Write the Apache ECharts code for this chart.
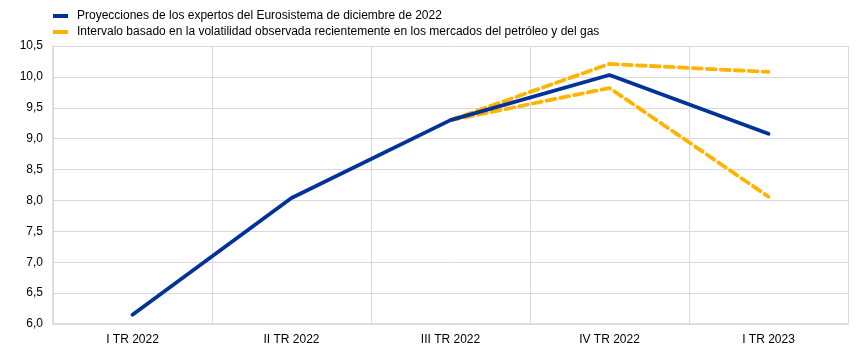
<!DOCTYPE html>
<html>
<head>
<meta charset="utf-8">
<script src="https://cdn.jsdelivr.net/npm/echarts@6/dist/echarts.min.js"></script>
<style>
  html, body { margin: 0; padding: 0; background: #fff; }
  #chart { width: 861px; height: 354px; }
</style>
</head>
<body>
<div id="chart"></div>
<script>
var categories = ['I TR 2022', 'II TR 2022', 'III TR 2022', 'IV TR 2022', 'I TR 2023'];
var projection = [6.15, 8.04, 9.30, 10.03, 9.08];
var upperBand = [null, null, 9.30, 10.21, 10.08];
var lowerBand = [null, null, 9.30, 9.82, 8.06];

var nameBlue = 'Proyecciones de los expertos del Eurosistema de diciembre de 2022';
var nameYellow = 'Intervalo basado en la volatilidad observada recientemente en los mercados del petróleo y del gas';

var chart = echarts.init(document.getElementById('chart'), null, { renderer: 'canvas' });

var dashStyle = { color: '#ffb400', width: 3.8, type: [9, 5], cap: 'round' };

chart.setOption({
  animation: false,
  textStyle: { fontFamily: 'Liberation Sans, Arial, sans-serif' },
  legend: {
    orient: 'vertical',
    left: 48,
    top: 5,
    itemGap: 4,
    itemWidth: 15,
    itemHeight: 4,
    icon: 'rect',
    textStyle: { fontSize: 12, color: '#000', padding: [0, 0, 0, 4] },
    data: [
      { name: nameBlue, itemStyle: { color: '#003299' } },
      { name: nameYellow, itemStyle: { color: '#ffb400' } }
    ]
  },
  grid: { left: 53, right: 13, top: 46, bottom: 30 },
  xAxis: {
    type: 'category',
    data: categories,
    boundaryGap: true,
    axisLine: { lineStyle: { color: '#d9d9d9', width: 1.5 } },
    axisTick: { show: false },
    splitLine: { show: true, lineStyle: { color: '#d9d9d9', width: 1 } },
    axisLabel: { color: '#000', fontSize: 12, margin: 10 }
  },
  yAxis: {
    type: 'value',
    min: 6,
    max: 10.5,
    interval: 0.5,
    axisLine: { show: true, lineStyle: { color: '#d9d9d9', width: 1.5 } },
    axisTick: { show: false },
    splitLine: { lineStyle: { color: '#d9d9d9', width: 1 } },
    axisLabel: {
      color: '#000', fontSize: 12, margin: 10,
      formatter: function (v) { return v.toFixed(1).replace('.', ','); }
    }
  },
  series: [
    {
      name: nameYellow, type: 'line', data: upperBand, symbol: 'none',
      lineStyle: dashStyle, itemStyle: { color: '#ffb400' }, z: 2
    },
    {
      name: nameYellow, type: 'line', data: lowerBand, symbol: 'none',
      lineStyle: dashStyle, itemStyle: { color: '#ffb400' }, z: 2
    },
    {
      name: nameBlue, type: 'line', data: projection, symbol: 'none',
      lineStyle: { color: '#003299', width: 3.8, cap: 'round' },
      itemStyle: { color: '#003299' }, z: 3
    }
  ]
});
</script>
</body>
</html>
